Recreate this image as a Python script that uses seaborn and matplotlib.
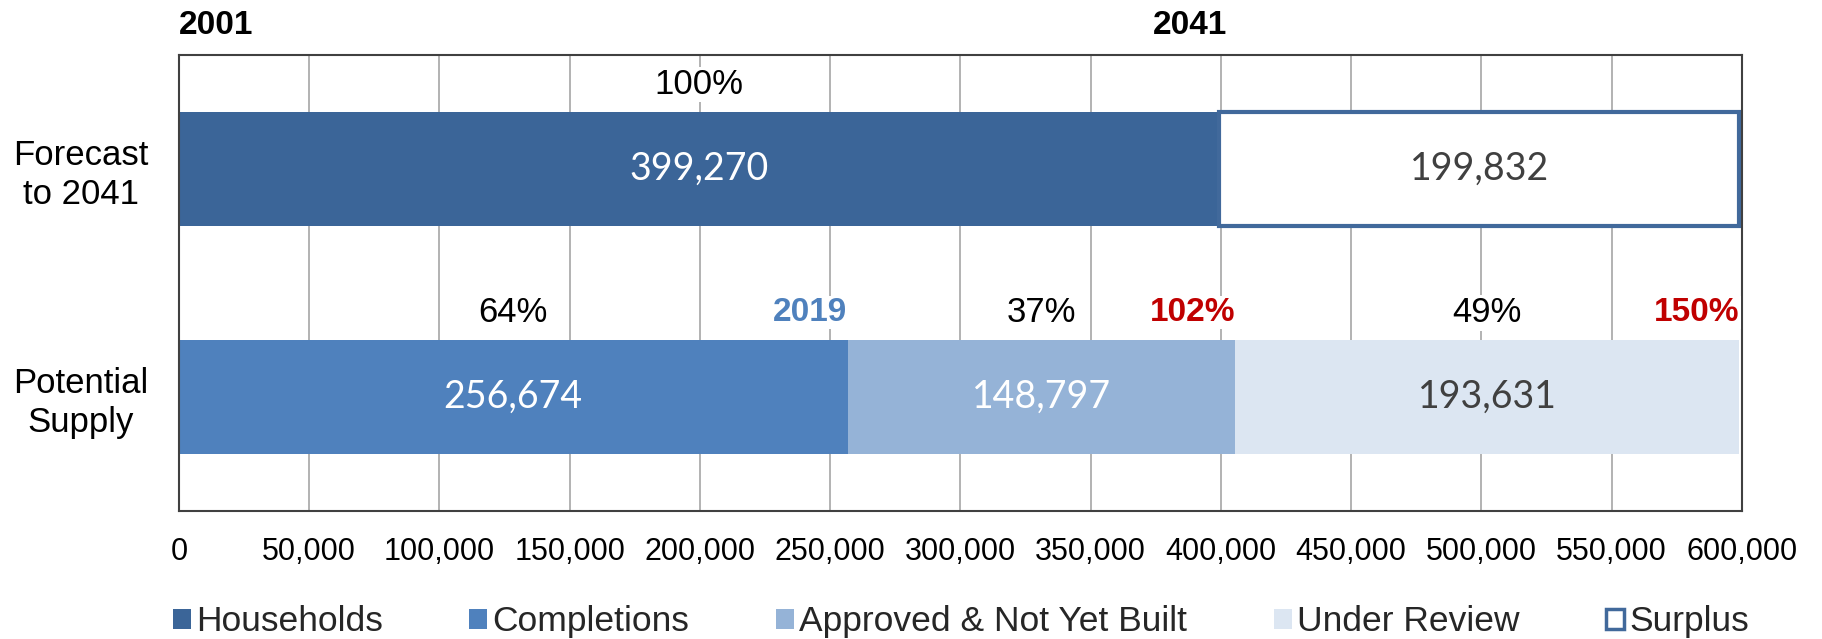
import numpy as np
import pandas as pd
import seaborn as sns
import matplotlib.pyplot as plt
from matplotlib.patches import Patch
from matplotlib.ticker import FuncFormatter


# Chart data
categories = ["Forecast\nto 2041", "Potential\nSupply"]
segments = ["Households", "Surplus", "Completions", "Approved & Not Yet Built", "Under Review"]
segment_category = [0, 0, 1, 1, 1]
values = [399270, 199832, 256674, 148797, 193631]
share_labels = ["100%", "", "64%", "37%", "49%"]
end_labels = ["", "", "2019", "102%", "150%"]
year_labels = ["2001", "2041"]
legend_order = ["Households", "Completions", "Approved & Not Yet Built", "Under Review", "Surplus"]
x_ticks = list(range(0, 600001, 50000))

# Styles
fill_colors = {"Households": "#3B6598", "Surplus": "white", "Completions": "#4F81BD",
               "Approved & Not Yet Built": "#95B3D7", "Under Review": "#DCE6F2"}
value_colors = {"Households": "white", "Surplus": "#404040", "Completions": "white",
                "Approved & Not Yet Built": "white", "Under Review": "#404040"}
end_colors = {"Completions": "#4F81BD", "Approved & Not Yet Built": "#C00000", "Under Review": "#C00000"}
surplus_edge = "#41699B"

df = pd.DataFrame({"category": [categories[i] for i in segment_category],
                   "segment": segments, "value": values,
                   "share": share_labels, "end_label": end_labels})
df["end"] = df.groupby("category")["value"].cumsum()
df["start"] = df["end"] - df["value"]
df["row"] = [categories.index(c) for c in df["category"]]

sns.set_theme(style="white")
plt.rcParams['font.family'] = ['Liberation Sans', 'DejaVu Sans']

fig, ax = plt.subplots(figsize=(18.22, 6.39), dpi=100)
fig.subplots_adjust(left=0.0982, right=0.956, bottom=0.2003, top=0.914)

# Stacked horizontal bars, one segment at a time
for _, r in df.iterrows():
    kw = dict(linewidth=0)
    if r.segment == "Surplus":
        kw = dict(edgecolor=surplus_edge, linewidth=3)
    sns.barplot(x=[r.value], y=[r.category], order=categories, orient="h",
                width=0.5, color=fill_colors[r.segment], saturation=1, left=r.start,
                errorbar=None, ax=ax, zorder=2, **kw)

# Labels on and above the bars
for _, r in df.iterrows():
    mid = r.start + r.value / 2
    ax.text(mid, r.row, f"{r.value:,}", ha="center", va="center", fontsize=27,
            color=value_colors[r.segment], family=["Lato", "DejaVu Sans"], zorder=4)
    if r.share:
        ax.text(mid, r.row - 0.37, r.share, ha="center", va="center", fontsize=25,
                color="black", zorder=4,
                bbox=dict(facecolor="white", edgecolor="none", pad=1))
    if r.end_label:
        ax.text(r.end, r.row - 0.37, r.end_label, ha="right", va="center", fontsize=24,
                fontweight="bold", color=end_colors[r.segment], zorder=4,
                bbox=dict(facecolor="white", edgecolor="none", pad=1))

# Years above the plot
households_end = df.loc[df.segment == "Households", "end"].iloc[0]
trans = ax.get_xaxis_transform()
ax.text(0, 1.064, year_labels[0], transform=trans, ha="left", va="center",
        fontsize=24, fontweight="bold", color="black")
ax.text(households_end + 3000, 1.064, year_labels[1], transform=trans, ha="right", va="center",
        fontsize=24, fontweight="bold", color="black")

# Axes
ax.set_xlim(0, 600000)
ax.set_ylim(1.5, -0.5)
ax.set_xticks(x_ticks)
ax.xaxis.set_major_formatter(FuncFormatter(lambda v, p: f"{int(v):,}"))
ax.set_xlabel("")
ax.set_ylabel("")
ax.tick_params(axis="x", length=0, pad=19, labelsize=22, colors="black")
ax.tick_params(axis="y", length=0, pad=22, labelsize=25, colors="black")
for lbl in ax.get_yticklabels():
    lbl.set_multialignment("center")
ax.grid(axis="x", color="#A6A6A6", linewidth=1.2)
ax.grid(axis="y", visible=False)
ax.set_axisbelow(True)
for s in ax.spines.values():
    s.set_visible(True)
    s.set_color("#404040")
    s.set_linewidth(1.5)

# Legend
handles = []
for seg in legend_order:
    if seg == "Surplus":
        handles.append(Patch(facecolor="white", edgecolor=surplus_edge, linewidth=2.5))
    else:
        handles.append(Patch(facecolor=fill_colors[seg], edgecolor="none"))
fig.legend(handles, legend_order, loc="center", bbox_to_anchor=(0.5274, 0.027), ncol=5,
           frameon=False, fontsize=25.5, handlelength=0.5, handleheight=0.5,
           handletextpad=0.15, columnspacing=2.45, borderpad=0, borderaxespad=0)

plt.savefig("out.png", dpi=100)
